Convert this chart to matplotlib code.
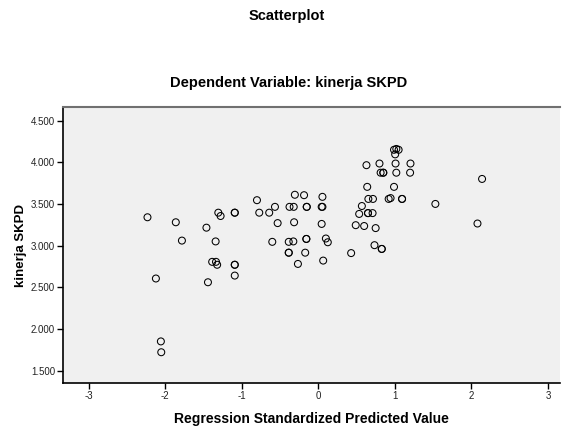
import matplotlib.pyplot as plt

plt.rcParams['font.family'] = ['Liberation Sans', 'DejaVu Sans']

# regression standardized predicted value (x) and kinerja SKPD (y)
pred = [-2.23, -1.86, -1.78, -1.46, -1.34, -1.305, -1.275, -1.09, -1.09, -0.80,
        -0.77, -0.64, -0.565, -0.53, -0.60, -0.385, -0.325, -0.385, -0.385, -0.17,
        -0.305, -0.185, -0.375, -0.32, -0.15, -0.15, -0.315, -0.155, -0.155, -0.265,
        -1.385, -1.335, -1.32, -1.09, -1.09, -1.09, -2.12, -1.44, -2.055, -2.05,
        0.055, 0.045, 0.055, 0.045, 0.10, 0.125, 0.065, 0.43, 0.63, 0.80,
        1.01, 1.205, 0.99, 1.02, 1.05, 1.005, 0.815, 0.85, 0.85, 1.02,
        1.20, 0.64, 0.99, 2.14, 0.655, 0.715, 0.92, 0.945, 1.095, 1.095,
        0.57, 0.535, 0.65, 0.65, 0.71, 1.53, 0.49, 0.60, 0.75, 2.08,
        0.735, 0.83, 0.83]
kinerja = [3.34, 3.28, 3.06, 3.215, 3.05, 3.395, 3.355, 3.395, 3.395, 3.545,
           3.395, 3.395, 3.465, 3.27, 3.045, 3.045, 3.05, 2.915, 2.915, 2.915,
           3.61, 3.605, 3.465, 3.465, 3.465, 3.465, 3.28, 3.08, 3.08, 2.78,
           2.805, 2.805, 2.77, 2.77, 2.77, 2.64, 2.605, 2.56, 1.85, 1.72,
           3.585, 3.465, 3.465, 3.26, 3.085, 3.04, 2.82, 2.91, 3.965, 3.985,
           3.985, 3.985, 4.15, 4.16, 4.15, 4.095, 3.875, 3.875, 3.875, 3.875,
           3.875, 3.705, 3.705, 3.80, 3.56, 3.56, 3.56, 3.57, 3.56, 3.56,
           3.475, 3.38, 3.39, 3.39, 3.39, 3.50, 3.245, 3.235, 3.21, 3.265,
           3.005, 2.96, 2.96]

xticks = [-3, -2, -1, 0, 1, 2, 3]
yticks = [1.5, 2.0, 2.5, 3.0, 3.5, 4.0, 4.5]
ytick_labels = ['1.500', '2.000', '2.500', '3.000', '3.500', '4.000', '4.500']

fig = plt.figure(figsize=(5.64, 4.28), dpi=100)
ax = fig.add_axes([0.1112, 0.1044, 0.882, 0.6463])
ax.set_facecolor('#f0f0f0')

ax.scatter(pred, kinerja, s=25, facecolors='none', edgecolors='black', linewidths=0.75)

ax.set_xlim(-3.337, 3.16)
ax.set_ylim(1.347, 4.667)
ax.set_xticks(xticks)
ax.set_xticklabels([str(t) for t in xticks])
ax.set_yticks(yticks)
ax.set_yticklabels(ytick_labels)
ax.tick_params(labelsize=7, length=4, width=1, pad=1.5, color='black', labelcolor='#222222')

ax.spines['right'].set_visible(False)
ax.spines['top'].set_color('#707070')
ax.spines['top'].set_linewidth(1.5)
ax.spines['left'].set_linewidth(1.2)
ax.spines['bottom'].set_linewidth(1.2)

ax.set_xlabel('Regression Standardized Predicted Value', fontsize=10, fontweight='bold', labelpad=8)
ax.set_ylabel('kinerja SKPD', fontsize=9.5, fontweight='bold', labelpad=3)

fig.text(287 / 564, 1 - 16 / 428, 'Scatterplot', ha='center', va='center', fontsize=10.5, fontweight='bold')
fig.text(289 / 564, 1 - 83 / 428, 'Dependent Variable: kinerja SKPD', ha='center', va='center',
         fontsize=10.5, fontweight='bold')

fig.savefig('out.png', dpi=100)
